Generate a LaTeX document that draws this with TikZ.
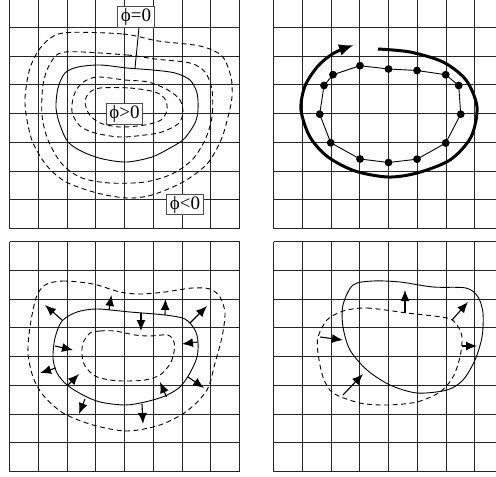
\documentclass[tikz,border=0pt]{standalone}
\usepackage{fontspec}
\setmainfont{Liberation Serif}
\usetikzlibrary{arrows.meta}

\begin{document}
\begin{tikzpicture}[
  x=1pt, y=-1pt,
  gridline/.style={draw=black!85, line width=1pt},
  front/.style={line width=0.9pt},
  level/.style={front, dash pattern=on 5pt off 3.5pt},
  sweep/.style={line width=3pt, -{Latex[length=15pt,width=12pt]}},
  normal/.style={line width=1.1pt, -{Latex[length=11pt,width=9pt]}},
  lbl/.style={draw=black!70, fill=white, line width=0.9pt, inner xsep=3pt, inner ysep=1.5pt, font=\fontsize{19}{20}\selectfont}
]
  \useasboundingbox (0,0) rectangle (496,477);
  \clip (0,0) rectangle (496,477);
  \foreach \ox/\oy in {9.5/-1.5, 273.5/-1.5, 9.5/241.5, 273.5/241.5} {
    \foreach \i in {0,...,8} {
      \draw[gridline] (\ox+\i*28.75, \oy) -- ++(0,230);
      \draw[gridline] (\ox, \oy+\i*28.75) -- ++(230,0);
    }
  }

  % level sets
  \draw[level] plot[smooth cycle] coordinates {(63,33) (123,34) (158,41) (200,46) (222,56) (231,77) (232,97) (228,117) (221,140) (207,164) (183,182) (152,195) (127,198) (97,193) (66,182) (47,166) (33,143) (27,120) (25,98) (30,68) (42,46)};
  \draw[level] plot[smooth cycle] coordinates {(65,52) (127,55) (155,59) (190,63) (205,72) (212,90) (212,117) (205,140) (192,160) (172,174) (145,182) (110,183) (82,178) (62,164) (48,140) (42,115) (43,85) (50,64)};
  \draw[front] plot[smooth cycle] coordinates {(100,65) (127,68) (153,70) (175,73) (190,80) (197,93) (198,110) (195,123) (184,139) (170,148) (152,157) (127,162) (103,159) (83,152) (68,142) (60,125) (56,108) (58,88) (65,73) (78,67)};
  \draw[level] plot[smooth cycle] coordinates {(97,77) (125,80) (148,82) (168,90) (180,100) (183,113) (178,124) (162,132) (145,135) (120,137) (95,133) (80,126) (72,112) (74,95) (82,83)};
  \draw[level] plot[smooth cycle] coordinates {(100,88) (130,88) (155,92) (165,99) (167,110) (161,120) (145,125) (120,127) (100,123) (89,114) (85,102) (89,93)};
  \coordinate (foot) at (135,68);
  \node[lbl] (zero) at (136,17) {ϕ=0};
  \node[lbl] (inside) at (124.5,114) {ϕ>0};
  \node[lbl] (outside) at (185,204.5) {ϕ<0};
  \draw[front] ([xshift=3pt]zero.south) -- (foot);

  % marker points
  \foreach \x/\y [count=\i] in {360/65.7, 388.5/69, 417/70.5, 445.7/74.7, 458.7/85.5, 460.7/114.2, 445.7/143, 417/159.2, 388.5/162.5, 360/159, 330.7/142.7, 319.7/114.2, 324/85.5, 333/74.7}
    \coordinate (m\i) at (\x,\y);
  \draw[front] (m1) \foreach \i in {2,...,14} {-- (m\i)} -- cycle;
  \foreach \i in {1,...,14}
    \fill (m\i) circle (3.9);
  \draw[sweep] plot[smooth] coordinates {(378,49) (410,52) (443,62) (466,80) (477,107) (471,137) (450,160) (417,173) (388,177) (355,171) (328,157) (310,137) (301,110) (305,86) (318,66) (334,53) (354,45)};

  % normals
  \draw[level] plot[smooth cycle] coordinates {(45,285) (63,281) (93,284) (120,292) (140,294) (165,292) (192,288) (210,289) (220,297) (225,313) (222,337) (215,363) (207,390) (187,411) (160,425) (127,431) (93,425) (63,413) (43,395) (33,377) (28,353) (30,327) (36,298)};
  \draw[front] plot[smooth cycle] coordinates {(77,312) (97,309) (130,312) (165,315) (185,319) (195,330) (198,342) (197,357) (190,373) (180,387) (165,396) (145,402) (125,405) (100,402) (83,395) (67,385) (57,373) (53,358) (55,338) (62,321)};
  \draw[level] plot[smooth cycle] coordinates {(90,333) (100,331) (115,331) (135,335) (150,336) (168,335) (174,342) (174,352) (170,364) (160,375) (145,380) (125,381) (110,380) (95,376) (85,366) (82,355) (83,343)};
  \foreach \xa/\ya/\xb/\yb in {62/320/45/305, 109/310/111.5/295, 55/346/73/350, 56/368/40/373, 68/385/79/374, 85/399/79/414, 165/315/165.5/299, 141/313/141/331, 190/323/207/306, 198/342/182/344, 188/377/204/388, 166.5/397/160/382, 142/404/143/424}
    \draw[normal] (\xa,\ya) -- (\xb,\yb);

  % advected front
  \draw[front] plot[smooth cycle] coordinates {(353,285) (373,281) (400,282) (433,287) (466,288) (478,297) (483,313) (482,337) (475,360) (463,380) (447,390) (417,393) (390,385) (367,370) (350,350) (343,327) (343,305)};
  \draw[level] plot[smooth cycle] coordinates {(343,311) (367,308) (407,313) (447,318) (457,325) (462,337) (460,357) (453,377) (440,392) (417,402) (387,405) (360,403) (333,393) (323,377) (318,353) (318,337) (327,320)};
  \foreach \xa/\ya/\xb/\yb in {320/337/343/340, 405/313/405/290, 452/320/468/302, 462/346/477/346, 343/395/363/374}
    \draw[normal] (\xa,\ya) -- (\xb,\yb);
\end{tikzpicture}
\end{document}
